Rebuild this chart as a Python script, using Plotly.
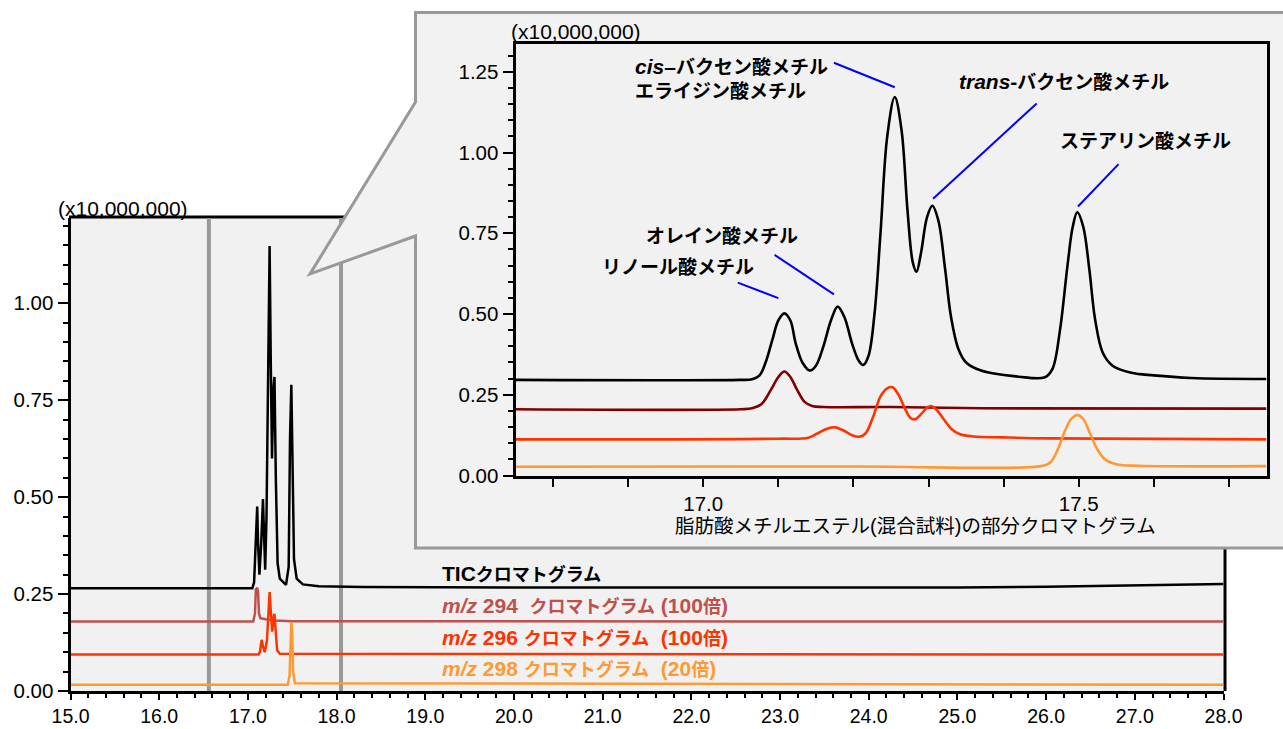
import re
import plotly.graph_objects as go

W, H = 1283, 729

# ---------------- overview chromatogram (x10,000,000) ----------------
tic_rt = [15.0, 17.05, 17.07, 17.09, 17.105, 17.115, 17.13, 17.15, 17.17, 17.18, 17.195,
          17.21, 17.23, 17.245, 17.258, 17.272, 17.288, 17.30, 17.315, 17.335, 17.36,
          17.43, 17.46, 17.475, 17.49, 17.505, 17.52, 17.55, 17.62, 17.8, 18.3, 20.0,
          24.4, 25.0, 26.0, 26.7, 27.5, 28.0]
tic_int = [0.265, 0.265, 0.28, 0.40, 0.476, 0.38, 0.30, 0.38, 0.495, 0.42, 0.313,
           0.45, 0.95, 1.148, 0.85, 0.60, 0.78, 0.81, 0.55, 0.33, 0.29,
           0.274, 0.32, 0.65, 0.79, 0.55, 0.34, 0.29, 0.275, 0.27, 0.268, 0.267,
           0.266, 0.267, 0.269, 0.272, 0.274, 0.276]

mz294_rt = [15.0, 17.06, 17.08, 17.09, 17.105, 17.115, 17.125, 17.14, 17.2, 17.3, 17.5, 28.0]
mz294_int = [0.179, 0.179, 0.20, 0.262, 0.266, 0.255, 0.20, 0.188, 0.185, 0.182, 0.18, 0.179]

mz296_rt = [15.0, 17.12, 17.135, 17.155, 17.17, 17.19, 17.215, 17.235, 17.245, 17.26,
            17.275, 17.29, 17.30, 17.315, 17.33, 17.36, 28.0]
mz296_int = [0.094, 0.094, 0.10, 0.132, 0.115, 0.10, 0.13, 0.24, 0.255, 0.20,
             0.153, 0.19, 0.199, 0.15, 0.105, 0.096, 0.094]

mz298_rt = [15.0, 17.45, 17.47, 17.48, 17.49, 17.50, 17.51, 17.53, 28.0]
mz298_int = [0.016, 0.016, 0.04, 0.14, 0.178, 0.15, 0.05, 0.02, 0.016]

main_x_ticks = [15.0, 16.0, 17.0, 18.0, 19.0, 20.0, 21.0, 22.0, 23.0, 24.0, 25.0, 26.0, 27.0, 28.0]
main_y_ticks = [0.0, 0.25, 0.50, 0.75, 1.00]
zoom_window = [16.56, 18.05]

trace_labels = ["TICクロマトグラム",
                "m/z 294  クロマトグラム (100倍)",
                "m/z 296 クロマトグラム  (100倍)",
                "m/z 298 クロマトグラム  (20倍)"]

# ---------------- partial chromatogram (x10,000,000) ----------------
z_tic_rt = [16.75, 17.05, 17.065, 17.075, 17.083, 17.092, 17.10, 17.108, 17.116, 17.123,
            17.132, 17.142, 17.15, 17.16, 17.17, 17.179, 17.188, 17.198, 17.207, 17.213,
            17.22, 17.228, 17.236, 17.245, 17.255, 17.264, 17.272, 17.279, 17.284, 17.29,
            17.298, 17.305, 17.313, 17.322, 17.33, 17.34, 17.35, 17.37, 17.42, 17.455,
            17.465, 17.475, 17.485, 17.492, 17.498, 17.506, 17.514, 17.522, 17.532, 17.545,
            17.57, 17.60, 17.65, 17.75]
z_tic_int = [0.296, 0.296, 0.298, 0.31, 0.35, 0.42, 0.48, 0.502, 0.48, 0.41,
             0.35, 0.325, 0.34, 0.40, 0.48, 0.523, 0.49, 0.41, 0.355, 0.342,
             0.37, 0.50, 0.75, 1.05, 1.172, 1.07, 0.82, 0.66, 0.631, 0.69,
             0.80, 0.835, 0.79, 0.64, 0.49, 0.39, 0.35, 0.325, 0.306, 0.304,
             0.33, 0.45, 0.65, 0.77, 0.815, 0.77, 0.64, 0.48, 0.38, 0.34,
             0.318, 0.31, 0.302, 0.299]

z_294_rt = [16.75, 17.05, 17.065, 17.078, 17.09, 17.10, 17.108, 17.116, 17.125, 17.135,
            17.145, 17.16, 17.25, 17.37, 17.75]
z_294_int = [0.205, 0.205, 0.208, 0.222, 0.265, 0.305, 0.322, 0.305, 0.265, 0.228,
             0.215, 0.212, 0.212, 0.208, 0.207]

z_296_rt = [16.75, 17.10, 17.14, 17.152, 17.165, 17.176, 17.186, 17.198, 17.208, 17.216,
            17.226, 17.236, 17.245, 17.252, 17.26, 17.268, 17.276, 17.282, 17.29, 17.298,
            17.303, 17.31, 17.32, 17.33, 17.342, 17.36, 17.40, 17.46, 17.75]
z_296_int = [0.112, 0.114, 0.117, 0.13, 0.145, 0.149, 0.14, 0.125, 0.12, 0.13,
             0.18, 0.245, 0.27, 0.273, 0.25, 0.21, 0.178, 0.174, 0.19, 0.21,
             0.215, 0.205, 0.175, 0.145, 0.128, 0.121, 0.118, 0.115, 0.112]

z_298_rt = [16.75, 17.2, 17.45, 17.462, 17.472, 17.482, 17.49, 17.498, 17.506, 17.515,
            17.525, 17.535, 17.55, 17.58, 17.75]
z_298_int = [0.027, 0.028, 0.029, 0.04, 0.08, 0.14, 0.175, 0.187, 0.175, 0.13,
             0.08, 0.05, 0.035, 0.03, 0.029]

z_x_ticks = [16.8, 16.9, 17.0, 17.1, 17.2, 17.3, 17.4, 17.5, 17.6, 17.7]
z_x_labels = ["", "", "17.0", "", "", "", "", "17.5", "", ""]
z_y_ticks = [0.0, 0.25, 0.50, 0.75, 1.00, 1.25]

compound_names = ["cis–バクセン酸メチル", "エライジン酸メチル", "trans-バクセン酸メチル",
                  "ステアリン酸メチル", "オレイン酸メチル", "リノール酸メチル"]
x_title = "脂肪酸メチルエステル(混合試料)の部分クロマトグラム"
scale_label = "(x10,000,000)"

# ---------------- styling ----------------
FONT = "Liberation Sans, Arial, Noto Sans CJK JP, sans-serif"
BG = "#f1f1f1"
GREY = "#999999"
C_TIC, C_294, C_296, C_298 = "#000000", "#c0504d", "#ff3300", "#ff9933"
C_294_ZOOM = "#800000"


def px(x):
    return x / W


def py(y):
    return 1 - y / H


# pixel frame of the two plot areas
MX0, MX1, MY0, MY1 = 70.5, 1223.5, 691.0, 218.0
ZX0, ZX1, ZY0, ZY1 = 515.5, 1266.5, 475.5, 44.0
MAIN_XR, MAIN_YR = [15.0, 28.0], [0.0, 1.22]
ZOOM_XR, ZOOM_YR = [16.75, 17.75], [0.0, 1.336]


def main_rt_to_px(rt):
    return MX0 + (rt - MAIN_XR[0]) / (MAIN_XR[1] - MAIN_XR[0]) * (MX1 - MX0)


CJK = r'[\u3000-\u30ff\u3400-\u9fff\uff00-\uffef]'


def rich(s, lat_size, cjk_size, bold=True):
    parts = []
    for run in re.findall(CJK + r'+|[^\u3000-\u30ff\u3400-\u9fff\uff00-\uffef]+', s):
        if re.match(CJK, run):
            parts.append(f'<span style="font-size:{cjk_size}px">{run}</span>')
        else:
            run = run.replace("m/z", "<i>m/z</i>")
            run = re.sub(r'^(cis|trans)', r'<i>\1</i>', run)
            run = run.replace(" ", "\u00a0")
            parts.append(f'<span style="font-size:{lat_size}px">{run}</span>')
    txt = "".join(parts)
    return f"<b>{txt}</b>" if bold else txt


fig = go.Figure()

for xs, ys, col in [(tic_rt, tic_int, C_TIC), (mz294_rt, mz294_int, C_294),
                    (mz296_rt, mz296_int, C_296), (mz298_rt, mz298_int, C_298)]:
    fig.add_trace(go.Scatter(x=xs, y=ys, mode="lines", xaxis="x", yaxis="y",
                             line=dict(color=col, width=2.5), hoverinfo="skip"))

for xs, ys, col in [(z_tic_rt, z_tic_int, C_TIC), (z_294_rt, z_294_int, C_294_ZOOM),
                    (z_296_rt, z_296_int, C_296), (z_298_rt, z_298_int, C_298)]:
    fig.add_trace(go.Scatter(x=xs, y=ys, mode="lines", xaxis="x2", yaxis="y2",
                             line=dict(color=col, width=2.6, shape="spline", smoothing=1.0),
                             hoverinfo="skip"))

shapes = []
# top / right frame of the overview plot (partly hidden by the callout)
shapes.append(dict(type="line", xref="paper", yref="paper", layer="below",
                   x0=px(MX0 - 1.5), x1=px(MX1 + 1.5), y0=py(MY1 - 1), y1=py(MY1 - 1),
                   line=dict(color="black", width=3)))
shapes.append(dict(type="line", xref="paper", yref="paper", layer="below",
                   x0=px(MX1 + 1.5), x1=px(MX1 + 1.5), y0=py(MY1 - 1), y1=py(MY0),
                   line=dict(color="black", width=3)))
# zoom window markers
for rt in zoom_window:
    xp = px(main_rt_to_px(rt))
    shapes.append(dict(type="line", xref="paper", yref="paper", layer="below",
                       x0=xp, x1=xp, y0=py(MY0), y1=py(MY1),
                       line=dict(color=GREY, width=4)))
# callout frame around the enlarged view
callout_pts = [(415.5, 12.5), (1300, 12.5), (1300, 548), (415.5, 548),
               (415.5, 236), (310, 274), (415.5, 102)]
path = "M " + " L ".join(f"{px(x):.5f},{py(y):.5f}" for x, y in callout_pts) + " Z"
shapes.append(dict(type="path", xref="paper", yref="paper", layer="below", path=path,
                   fillcolor="#f2f2f2", line=dict(color=GREY, width=3)))

# leader lines from names to peaks (zoomed axes)
leaders = [((17.174, 1.278), (17.255, 1.202)),
           ((17.444, 1.152), (17.306, 0.857)),
           ((17.553, 0.964), (17.499, 0.833)),
           ((17.095, 0.683), (17.174, 0.561)),
           ((17.046, 0.597), (17.100, 0.549))]
for (x0, y0), (x1, y1) in leaders:
    shapes.append(dict(type="line", xref="x2", yref="y2", x0=x0, y0=y0, x1=x1, y1=y1,
                       line=dict(color="#0000ff", width=2)))

annotations = []


def note(text, x, y, size, anchor="left"):
    annotations.append(dict(text=text, xref="paper", yref="paper", x=px(x), y=py(y),
                            xanchor=anchor, yanchor="middle", showarrow=False,
                            font=dict(family=FONT, size=size, color="black")))


# overview trace labels
label_pos = [(440, 573), (440, 605), (440, 637), (440, 668)]
label_col = [C_TIC, C_294, C_296, C_298]
for txt, (x, y), col in zip(trace_labels, label_pos, label_col):
    annotations.append(dict(text=rich(txt, 21, 18), xref="paper", yref="paper",
                            x=px(x), y=py(y), xanchor="left", yanchor="middle",
                            showarrow=False, font=dict(family=FONT, size=18, color=col)))

# compound names in the enlarged view
name_pos = [(633, 66), (633, 91), (957, 81), (1058, 142), (644, 237), (600, 267)]
for txt, (x, y) in zip(compound_names, name_pos):
    note(rich(txt, 21, 19), x, y, 19)

note(scale_label, 56, 208, 21)
note(scale_label, 509, 32, 21)
note(rich(x_title, 20, 19.5, bold=False), 915.5, 526, 19.5, anchor="center")

axis_common = dict(showline=True, linecolor="black", linewidth=3, ticks="outside",
                   tickcolor="black", tickwidth=2, showgrid=False, zeroline=False,
                   automargin=False, fixedrange=True)
tick_font = dict(family=FONT, size=20.5, color="black")

fig.update_layout(
    width=W, height=H, autosize=False,
    margin=dict(l=0, r=0, t=0, b=0, pad=0, autoexpand=False),
    paper_bgcolor="white", plot_bgcolor=BG,
    showlegend=False, hovermode=False,
    xaxis=dict(domain=[px(MX0), px(MX1)], range=MAIN_XR, anchor="y",
               tickvals=main_x_ticks, ticktext=[f"{v:.1f}" for v in main_x_ticks],
               ticklen=6, tickfont=dict(family=FONT, size=19.5, color="black"),
               minor=dict(dtick=0.2, tick0=15, ticks="outside", ticklen=4,
                          tickwidth=2, tickcolor="black", showgrid=False),
               **axis_common),
    yaxis=dict(domain=[py(MY0), py(MY1)], range=MAIN_YR, anchor="x",
               tickvals=main_y_ticks, ticktext=[f"{v:.2f}" for v in main_y_ticks],
               ticklen=10, tickfont=tick_font,
               minor=dict(dtick=0.05, tick0=0, ticks="outside", ticklen=5,
                          tickwidth=2, tickcolor="black", showgrid=False),
               **axis_common),
    xaxis2=dict(domain=[px(ZX0), px(ZX1)], range=ZOOM_XR, anchor="y2", mirror=True,
                tickvals=z_x_ticks, ticktext=z_x_labels, ticklen=8, tickfont=tick_font,
                **axis_common),
    yaxis2=dict(domain=[py(ZY0), py(ZY1)], range=ZOOM_YR, anchor="x2", mirror=True,
                tickvals=z_y_ticks, ticktext=[f"{v:.2f}" for v in z_y_ticks],
                ticklen=10, tickfont=tick_font,
                minor=dict(dtick=0.05, tick0=0, ticks="outside", ticklen=5,
                           tickwidth=2, tickcolor="black", showgrid=False),
                **axis_common),
    shapes=shapes,
    annotations=annotations,
)

fig.write_html("out.html")
